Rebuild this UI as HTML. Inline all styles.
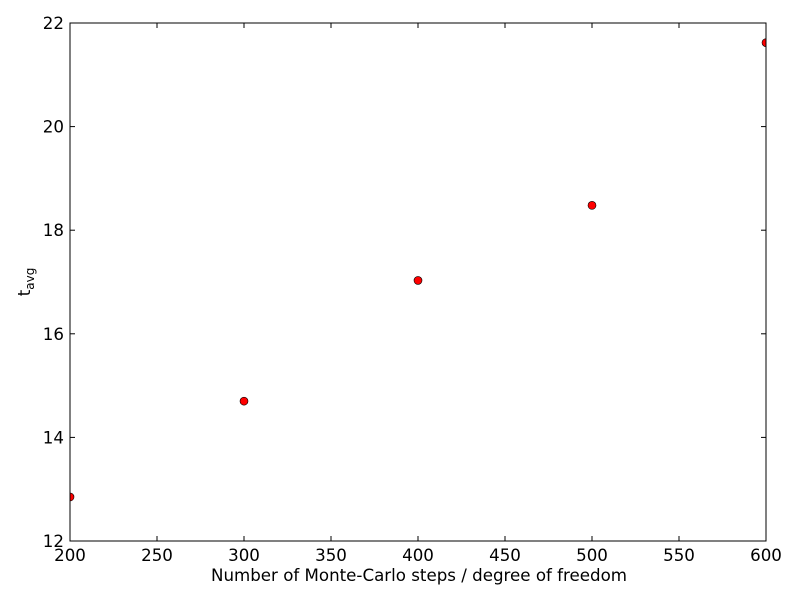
<!DOCTYPE html>
<html><head><meta charset="utf-8"><style>
body{margin:0;background:#fff;}
svg text{font-family:"DejaVu Sans","Liberation Sans",sans-serif;font-size:16.67px;fill:#000;}
</style></head><body>
<svg id="chart" width="800" height="600">
<defs><clipPath id="plotclip"><rect x="70" y="23" width="696" height="518"/></clipPath></defs>
<rect x="0" y="0" width="800" height="600" fill="#fff"/>
<g id="ticks"></g>
<g id="points" clip-path="url(#plotclip)"></g>
<rect x="70" y="23" width="696" height="518" fill="none" stroke="#000" stroke-width="1"/>
<text x="419" y="581" text-anchor="middle">Number of Monte-Carlo steps / degree of freedom</text>
<text transform="translate(30,282) rotate(-90)" text-anchor="middle">t<tspan font-size="12" dy="4">avg</tspan></text>
</svg>
<script>
const xValues = [200, 300, 400, 500, 600];
const yValues = [12.85, 14.70, 17.03, 18.48, 21.62];
const xTicks = [200, 250, 300, 350, 400, 450, 500, 550, 600];
const yTicks = [12, 14, 16, 18, 20, 22];
const L=70,R=766,T=23,B=541;
function sx(v){return L+(v-200)/400*(R-L);}
function sy(v){return B-(v-12)/10*(B-T);}
const NS="http://www.w3.org/2000/svg";
const tg=document.getElementById('ticks'), pg=document.getElementById('points');
function mk(tag,attrs,parent){const e=document.createElementNS(NS,tag);for(const k in attrs)e.setAttribute(k,attrs[k]);parent.appendChild(e);return e;}
xTicks.forEach(v=>{
  const x=sx(v);
  const t1=mk('line',{x1:x,x2:x,y1:B,y2:B-5,stroke:'#000'},tg);
  
  
  const t2=mk('line',{x1:x,x2:x,y1:T,y2:T+5,stroke:'#000'},tg);
  
  
  const l=mk('text',{x:x,y:B+20,'text-anchor':'middle'},tg);
  l.textContent=v;
  
  
});
yTicks.forEach(v=>{
  const y=sy(v);
  const t1=mk('line',{x1:L,x2:L+5,y1:y,y2:y,stroke:'#000'},tg);
  
  
  const t2=mk('line',{x1:R,x2:R-5,y1:y,y2:y,stroke:'#000'},tg);
  
  
  const l=mk('text',{x:L-6,y:y+6,'text-anchor':'end'},tg);
  l.textContent=v;
  
  
});
xValues.forEach((v,i)=>{
  const c=mk('circle',{cx:sx(v),cy:sy(yValues[i]),r:4,fill:'#ff0000',stroke:'#000','stroke-width':0.6},pg);
  
  
});
</script>
</body></html>
